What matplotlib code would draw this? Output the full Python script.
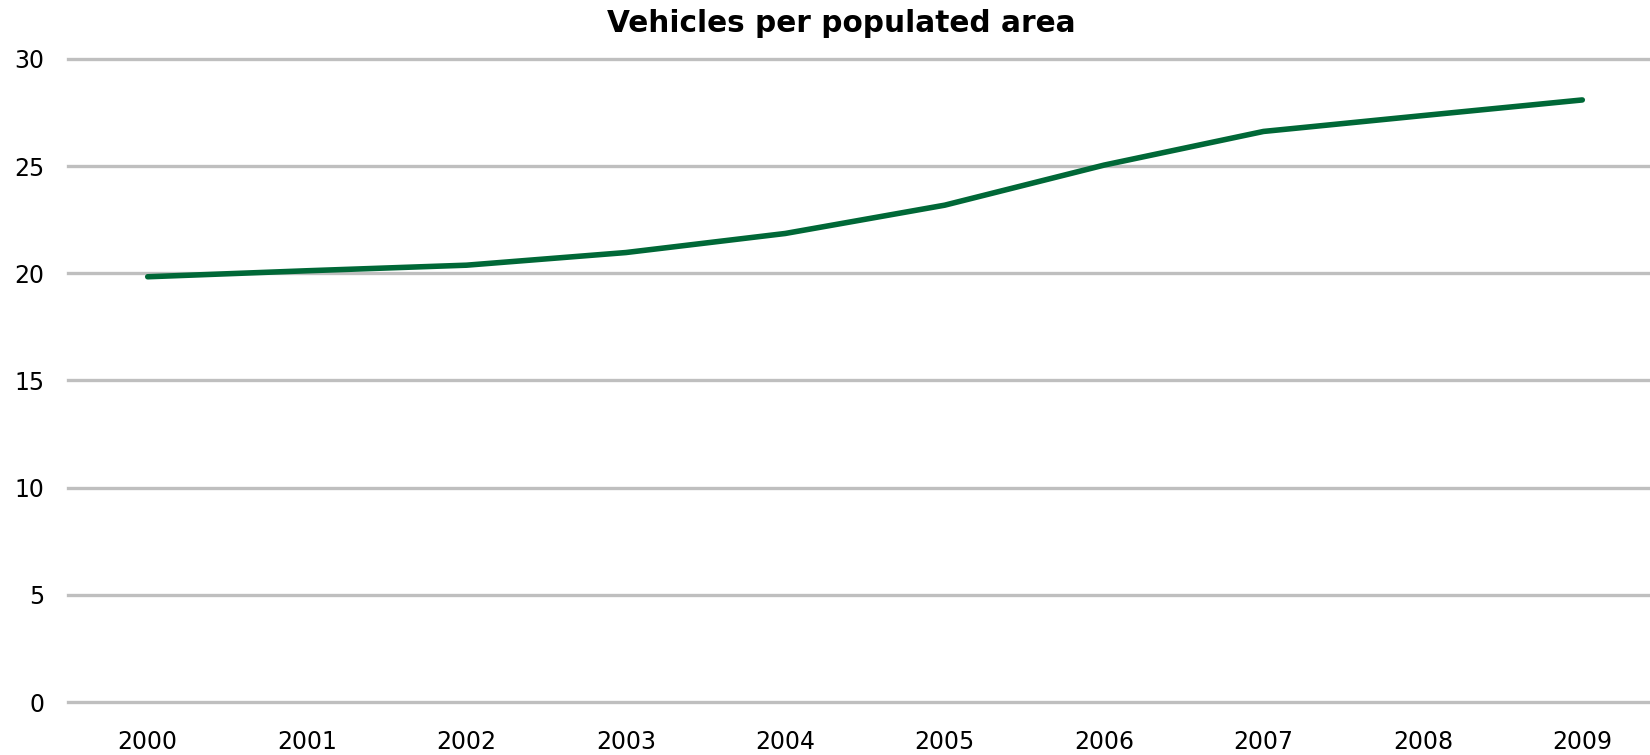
import matplotlib.pyplot as plt

# Data
years = ['2000', '2001', '2002', '2003', '2004', '2005', '2006', '2007', '2008', '2009']
vehicles = [19.84, 20.12, 20.38, 20.97, 21.86, 23.18, 25.05, 26.62, 27.36, 28.09]
y_ticks = [0, 5, 10, 15, 20, 25, 30]

plt.rcParams['font.family'] = ['DejaVu Sans']

fig = plt.figure(figsize=(16.5, 7.55), dpi=100)
ax = fig.add_axes([68 / 1650, 1 - 702 / 755, 1594 / 1650, (702 - 59) / 755])

x = range(len(years))
ax.plot(x, vehicles, color='#006837', linewidth=4, solid_capstyle='round',
        solid_joinstyle='round', zorder=3)

ax.set_xlim(-0.5, len(years) - 0.5)
ax.set_ylim(0, 30)
ax.set_yticks(y_ticks)
ax.set_xticks(list(x))
ax.set_xticklabels(years)

ax.grid(axis='y', color='#BFBFBF', linewidth=2.4)
for gl in ax.get_ygridlines():
    gl.set_clip_on(False)
ax.set_axisbelow(True)
for s in ax.spines.values():
    s.set_visible(False)
ax.tick_params(axis='both', length=0, labelsize=17, colors='#000000')
ax.tick_params(axis='y', pad=17)
ax.tick_params(axis='x', pad=20)

fig.text(0.51, 1 - 23 / 755, 'Vehicles per populated area', ha='center', va='center',
         fontsize=21.3, fontweight='bold')

fig.savefig('out.png', dpi=100)
